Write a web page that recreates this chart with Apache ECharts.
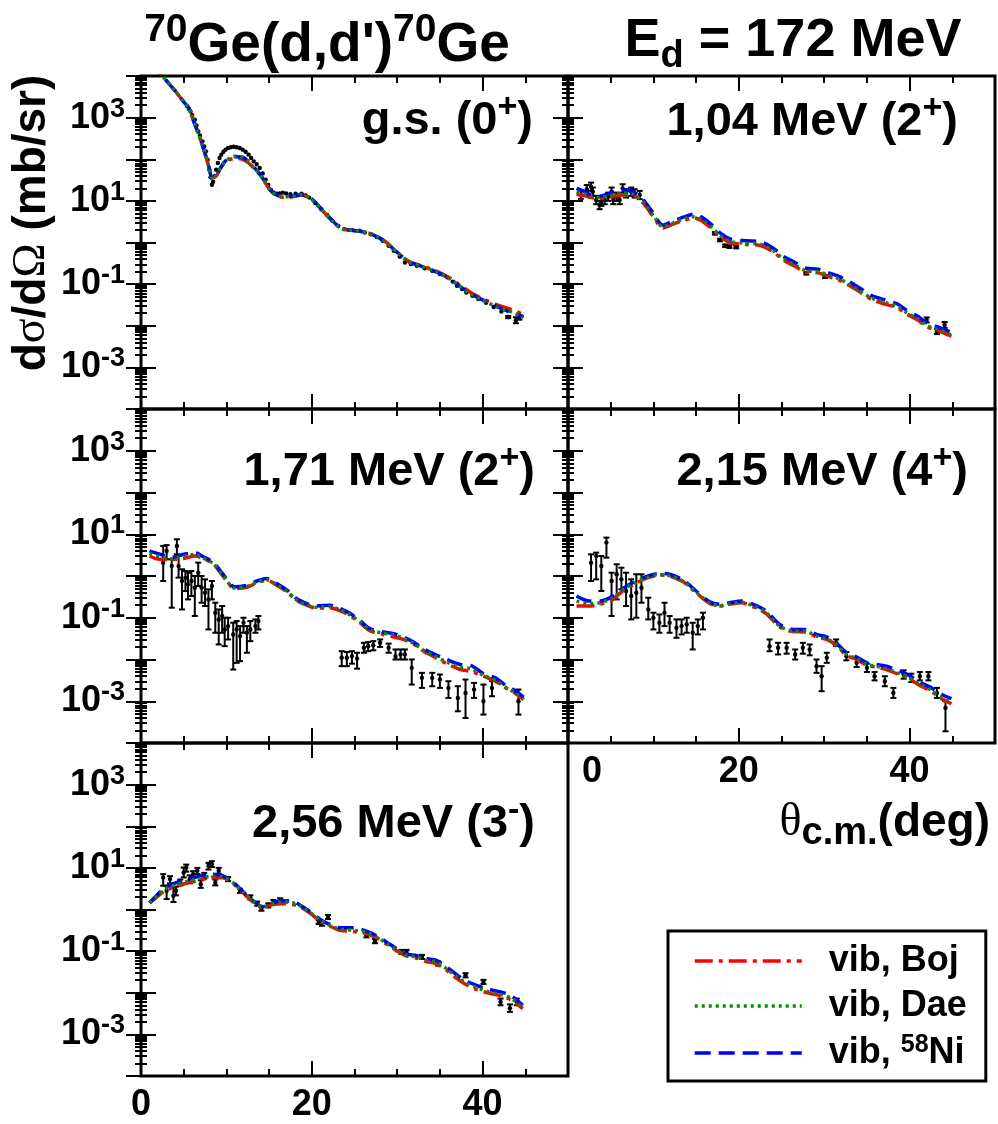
<!DOCTYPE html>
<html><head><meta charset="utf-8">
<script src="https://cdn.jsdelivr.net/npm/echarts@6/dist/echarts.min.js"></script>
<style>html,body{margin:0;padding:0;background:#fff}#c{width:998px;height:1124px}</style>
</head><body><div id="c"></div>
<script>
// ---------- tick / label arrays ----------
const X_MAJOR = [0, 20, 40];
const X_MINOR = [5, 10, 15, 25, 30, 35, 45];
const X_LABELS = [0, 20, 40];
const Y_DECADES = [1e-4, 1e-3, 1e-2, 1e-1, 1, 1e1, 1e2, 1e3, 1e4];
const Y_LABELS = [1e-3, 1e-1, 1e1, 1e3];
const SERIES_NAMES = ['vib, Boj', 'vib, Dae', 'vib, 58Ni'];
// [main text, superscript]
const PANEL_LABELS = [['g.s. (0', '+'], ['1,04 MeV (2', '+'], ['1,71 MeV (2', '+'], ['2,15 MeV (4', '+'], ['2,56 MeV (3', '-']];

// ---------- panel 1 : g.s. (0+) ----------
const P1_TH  = [1,2,2.5,3,4,5,5.6,6.2,6.7,7.2,7.6,8.0,8.35,8.8,9.2,9.8,10.5,11.2,11.9,12.6,13.3,13.9,14.6,15.2,15.8,16.5,17.5,18.8,19.9,21.1,22.2,23.5,24.9,26.5,27.6,28.7,30.0,31.4,32.7,34.5,35.9,37.2,38.6,39.9,41.7,43.5,44.8];
const P1_BOJ = [2.24e4,1.29e4,1.0e4,7.59e3,4.37e3,2.40e3,1.70e3,7.94e2,4.27e2,2.14e2,1.17e2,6.03e1,3.55e1,3.98e1,5.50e1,8.32e1,1.0e2,1.05e2,1.0e2,8.13e1,5.89e1,4.37e1,2.63e1,1.74e1,1.38e1,1.23e1,1.23e1,1.38e1,1.12e1,6.31,3.63,2.19,1.95,1.74,1.41,1.02,5.89e-1,3.47e-1,2.82e-1,2.09e-1,1.51e-1,1.0e-1,6.31e-2,4.57e-2,3.16e-2,2.40e-2,1.82e-2];
const P1_DAE = [2.24e4,1.29e4,1.0e4,7.59e3,4.37e3,2.40e3,1.70e3,7.94e2,4.27e2,2.14e2,1.17e2,6.03e1,3.31e1,3.98e1,5.62e1,8.51e1,1.10e2,1.20e2,1.10e2,8.51e1,6.03e1,4.37e1,2.63e1,1.74e1,1.38e1,1.26e1,1.26e1,1.41e1,1.12e1,6.31,3.63,2.14,1.95,1.70,1.38,1.0,5.75e-1,3.39e-1,2.75e-1,2.0e-1,1.45e-1,9.33e-2,5.75e-2,4.17e-2,2.82e-2,2.09e-2,1.58e-2];
const P1_NI  = [2.24e4,1.29e4,1.0e4,7.59e3,4.37e3,2.40e3,1.70e3,7.94e2,4.27e2,2.14e2,1.17e2,6.03e1,3.39e1,4.07e1,5.75e1,8.71e1,1.12e2,1.15e2,1.12e2,8.71e1,6.17e1,4.47e1,2.69e1,1.78e1,1.41e1,1.29e1,1.29e1,1.41e1,1.15e1,6.46,3.72,2.14,1.95,1.70,1.38,1.0,5.75e-1,3.39e-1,2.75e-1,2.0e-1,1.45e-1,9.33e-2,5.89e-2,4.27e-2,2.88e-2,2.0e-2,1.66e-2];
// [theta, value, low, high]  (error bars smaller than the dot are given as value only)
const P1_EXP = [[5.4,1.91e3],[5.6,1.62e3],[5.8,1.41e3],[6.0,1.15e3],[6.3,8.91e2],[6.5,6.46e2],[6.7,4.68e2],[6.9,3.72e2],[7.2,2.69e2],[7.4,2.04e2],[7.6,1.55e2],[7.8,9.77e1],[8.0,5.62e1],[8.15,3.72e1],[8.3,2.45e1],[8.45,2.88e1],[8.6,3.89e1],[8.8,5.62e1],[9.0,8.13e1],[9.2,1.07e2],[9.4,1.29e2],[9.65,1.51e2],[9.9,1.70e2],[10.2,1.86e2],[10.5,1.95e2],[10.85,2.0e2],[11.2,1.95e2],[11.55,1.86e2],[11.9,1.70e2],[12.25,1.51e2],[12.6,1.29e2],[12.9,1.07e2],[13.2,8.91e1],[13.55,7.59e1],[13.9,6.17e1],[14.25,4.57e1],[14.6,3.24e1],[14.9,2.40e1],[15.2,1.86e1],[15.55,1.58e1],[15.9,1.48e1],[16.25,1.51e1],[16.6,1.58e1],[17.0,1.51e1],[17.5,1.45e1],[18.1,1.48e1],[18.8,1.48e1],[19.3,1.35e1],[19.7,1.20e1],[20.4,8.91],[21.1,6.31],[21.8,4.57],[22.4,3.31],[23.1,2.51],[23.8,2.09],[24.7,2.0],[25.6,1.91],[26.2,1.74],[26.9,1.58],[27.6,1.35],[28.3,1.10],[29.0,8.32e-1],[29.6,6.31e-1],[30.3,4.57e-1],[30.9,3.31e-1],[31.6,3.02e-1],[32.3,2.75e-1],[33.2,2.40e-1],[34.1,2.09e-1],[35.0,1.74e-1],[35.9,1.45e-1],[36.5,1.15e-1],[37.0,9.12e-2],[37.6,7.59e-2],[38.1,6.31e-2],[38.8,5.25e-2],[39.5,4.37e-2],[40.4,3.55e-2],[41.3,2.82e-2],[42.2,2.19e-2],[43.0,1.62e-2,1.52e-2,1.72e-2],[43.9,1.35e-2,1.15e-2,1.60e-2],[44.3,1.58e-2,1.40e-2,1.78e-2]];

// ---------- panel 2 : 1,04 MeV (2+) ----------
const P2_TH  = [1,2,2.7,3.7,4.9,6.25,7.6,8.8,10.0,11.1,12.3,13.5,14.8,15.8,16.8,18.0,19.1,20.9,22.5,24.0,25.2,26.4,27.9,29.3,30.7,31.8,33.0,34.2,35.5,37.1,38.5,39.6,41.0,42.0,43.2,44.9];
const P2_BOJ = [1.45e1,1.32e1,1.20e1,1.15e1,1.23e1,1.38e1,1.35e1,8.91,4.17,2.24,2.75,3.39,3.89,3.16,2.19,1.29,9.77e-1,8.91e-1,8.51e-1,6.03e-1,3.80e-1,2.82e-1,1.95e-1,1.86e-1,1.48e-1,1.23e-1,9.12e-2,6.46e-2,4.37e-2,3.31e-2,2.75e-2,1.95e-2,1.35e-2,9.55e-3,7.76e-3,5.62e-3];
const P2_DAE = [1.66e1,1.45e1,1.26e1,1.20e1,1.32e1,1.51e1,1.45e1,9.33,4.47,2.40,2.95,3.63,4.17,3.39,2.34,1.38,1.05,9.55e-1,9.12e-1,6.46e-1,4.07e-1,3.02e-1,2.09e-1,2.0e-1,1.58e-1,1.32e-1,9.77e-2,6.92e-2,4.68e-2,3.63e-2,2.95e-2,2.09e-2,1.45e-2,1.02e-2,8.32e-3,6.03e-3];
const P2_NI  = [2.0e1,1.66e1,1.38e1,1.29e1,1.51e1,1.82e1,1.66e1,1.07e1,5.01,2.63,3.31,4.07,4.79,3.89,2.69,1.58,1.20,1.10,1.05,7.41e-1,4.68e-1,3.47e-1,2.40e-1,2.29e-1,1.82e-1,1.51e-1,1.12e-1,7.94e-2,5.37e-2,4.17e-2,3.39e-2,2.40e-2,1.66e-2,1.17e-2,9.55e-3,6.92e-3];
const P2_EXP = [[1.5,1.41e1,1.12e1,1.78e1],[2.2,1.91e1,1.51e1,2.40e1],[2.7,2.19e1,1.74e1,2.75e1],[2.9,1.66e1,1.32e1,2.09e1],[3.3,1.05e1,8.32,1.32e1],[3.7,7.94,6.31,1.0e1],[3.9,9.55,7.59,1.20e1],[4.3,1.05e1,8.32,1.32e1],[4.7,1.26e1,1.0e1,1.58e1],[5.1,1.66e1,1.32e1,2.09e1],[5.3,1.05e1,8.32,1.32e1],[5.7,1.26e1,1.0e1,1.58e1],[6.05,1.05e1,8.32,1.32e1],[6.4,2.0e1,1.58e1,2.51e1],[6.8,1.51e1,1.20e1,1.91e1],[7.4,1.66e1,1.32e1,2.09e1],[7.8,1.51e1,1.20e1,1.91e1],[8.4,1.38e1,1.10e1,1.74e1],[17.2,1.66,1.55,1.78],[17.8,1.15,1.07,1.23],[18.4,8.32e-1,7.76e-1,8.91e-1],[18.9,7.94e-1,7.41e-1,8.51e-1],[19.7,7.76e-1,7.24e-1,8.32e-1],[27.9,1.82e-1,1.70e-1,1.95e-1],[30.1,1.51e-1,1.41e-1,1.62e-1],[42.0,1.38e-2,1.20e-2,1.58e-2],[43.2,7.24e-3,6.31e-3,8.32e-3],[44.1,1.05e-2,8.91e-3,1.23e-2]];

// ---------- panel 3 : 1,71 MeV (2+) ----------
const P3_TH  = [1,2.2,3.6,5.0,6.3,7.3,8.5,9.6,11.0,12.4,13.6,14.7,15.9,17.1,18.2,19.4,20.6,22.1,23.3,24.5,25.7,26.8,28.4,29.6,30.7,31.9,33.1,34.2,35.8,37.4,38.6,40.1,41.5,42.7,43.6,44.8];
const P3_BOJ = [3.02,2.51,2.51,2.63,3.02,2.63,1.91,1.0,5.01e-1,5.37e-1,6.92e-1,7.94e-1,6.03e-1,4.17e-1,2.63e-1,2.0e-1,1.70e-1,1.74e-1,1.48e-1,1.12e-1,7.41e-2,4.90e-2,3.98e-2,3.47e-2,3.02e-2,2.34e-2,1.58e-2,1.20e-2,7.94e-3,5.75e-3,5.25e-3,3.98e-3,3.02e-3,2.09e-3,1.66e-3,1.10e-3];
const P3_DAE = [3.47,2.88,2.57,2.95,3.31,2.69,1.95,1.02,5.13e-1,5.62e-1,7.08e-1,8.13e-1,6.17e-1,4.27e-1,2.69e-1,2.04e-1,1.78e-1,1.86e-1,1.55e-1,1.17e-1,7.76e-2,5.13e-2,4.27e-2,3.89e-2,3.24e-2,2.45e-2,1.66e-2,1.26e-2,8.71e-3,6.46e-3,6.03e-3,4.17e-3,3.16e-3,2.14e-3,1.70e-3,1.12e-3];
const P3_NI  = [3.98,3.31,2.82,3.31,3.63,2.88,2.09,1.10,5.50e-1,6.03e-1,7.59e-1,8.71e-1,6.61e-1,4.57e-1,2.88e-1,2.19e-1,1.91e-1,2.0e-1,1.66e-1,1.26e-1,8.32e-2,5.50e-2,4.57e-2,4.17e-2,3.47e-2,2.63e-2,1.82e-2,1.38e-2,1.0e-2,7.59e-3,7.24e-3,4.57e-3,3.63e-3,2.40e-3,1.91e-3,1.26e-3];
const P3_EXP = [[2.6,2.09,7.59e-1,5.25],[3.0,3.98,2.51,5.50],[3.6,1.74,1.74e-1,2.51],[4.2,5.25,3.31,7.59],[4.4,1.74,9.12e-1,3.02],[4.8,7.59e-1,1.58e-1,1.45],[5.2,9.12e-1,4.37e-1,1.32],[5.5,6.31e-1,2.75e-1,1.20],[5.9,7.59e-1,3.31e-1,1.32],[6.3,5.25e-1,1.10e-1,1.0],[6.7,1.20,5.75e-1,2.09],[7.1,5.25e-1,2.29e-1,1.0],[7.5,3.98e-1,1.91e-1,8.32e-1],[7.9,2.75e-1,5.25e-2,4.79e-1],[8.3,5.75e-1,2.75e-1,7.59e-1],[8.7,1.32e-1,4.37e-2,2.29e-1],[9.1,9.12e-2,2.29e-2,1.58e-1],[9.5,1.10e-1,4.37e-2,1.91e-1],[9.8,5.25e-2,2.09e-2,1.0e-1],[10.2,6.31e-2,3.02e-2,1.0e-1],[10.8,3.98e-2,5.75e-3,7.59e-2],[11.2,5.25e-2,8.32e-3,8.32e-2],[11.6,3.63e-2,9.12e-3,6.31e-2],[12.0,7.59e-2,4.37e-2,1.0e-1],[12.4,4.37e-2,1.45e-2,6.31e-2],[12.8,5.25e-2,2.75e-2,8.32e-2],[13.4,6.31e-2,4.37e-2,9.12e-2],[13.75,8.32e-2,5.25e-2,1.10e-1],[23.5,1.10e-2,6.92e-3,1.58e-2],[24.1,1.10e-2,6.92e-3,1.51e-2],[24.7,1.20e-2,7.94e-3,1.58e-2],[25.3,1.05e-2,6.03e-3,1.45e-2],[26.1,1.91e-2,1.45e-2,2.51e-2],[26.6,2.09e-2,1.58e-2,2.63e-2],[27.2,2.19e-2,1.66e-2,2.75e-2],[28.0,2.51e-2,2.0e-2,3.02e-2],[29.0,1.91e-2,1.45e-2,2.40e-2],[29.8,1.20e-2,1.0e-2,1.74e-2],[30.4,1.32e-2,1.0e-2,1.74e-2],[30.9,1.32e-2,1.0e-2,1.74e-2],[31.7,6.31e-3,2.51e-3,1.0e-2],[32.9,3.63e-3,2.09e-3,4.79e-3],[34.1,3.63e-3,2.29e-3,4.79e-3],[35.0,3.31e-3,2.09e-3,4.37e-3],[36.0,2.09e-3,1.20e-3,3.02e-3],[37.1,1.20e-3,5.75e-4,2.29e-3],[38.0,1.58e-3,3.98e-4,3.31e-3],[39.0,1.91e-3,1.20e-3,2.75e-3],[40.1,1.0e-3,4.79e-4,2.51e-3],[41.1,2.09e-3,1.32e-3,3.02e-3],[44.2,1.0e-3,4.79e-4,1.91e-3]];

// ---------- panel 4 : 2,15 MeV (4+) ----------
const P4_TH  = [1,2.5,3.7,5.1,6.4,7.8,9.2,10.7,11.9,13.5,15.0,16.6,17.8,18.9,20.3,21.7,23.2,24.8,26.4,27.7,29.1,30.3,31.5,32.6,33.8,35.0,36.1,37.3,38.5,39.6,41.2,42.4,43.6,44.9];
const P4_BOJ = [1.91e-1,1.91e-1,2.09e-1,2.63e-1,4.37e-1,6.46e-1,8.91e-1,1.05,1.0,7.24e-1,3.98e-1,2.19e-1,1.91e-1,2.09e-1,2.29e-1,1.82e-1,1.26e-1,6.03e-2,4.68e-2,4.57e-2,3.47e-2,3.02e-2,2.09e-2,1.26e-2,1.0e-2,7.24e-3,6.61e-3,5.75e-3,4.57e-3,3.80e-3,2.40e-3,1.82e-3,1.20e-3,8.71e-4];
const P4_DAE = [2.51e-1,2.19e-1,2.29e-1,2.88e-1,4.68e-1,6.76e-1,9.12e-1,1.07,1.02,7.41e-1,4.07e-1,2.24e-1,1.95e-1,2.14e-1,2.34e-1,1.91e-1,1.32e-1,6.31e-2,4.79e-2,4.79e-2,3.63e-2,3.16e-2,2.19e-2,1.32e-2,1.05e-2,7.59e-3,6.92e-3,6.03e-3,4.79e-3,3.98e-3,2.51e-3,1.91e-3,1.26e-3,9.12e-4];
const P4_NI  = [3.31e-1,2.51e-1,2.51e-1,3.16e-1,5.01e-1,7.24e-1,9.77e-1,1.15,1.10,7.94e-1,4.37e-1,2.40e-1,2.09e-1,2.29e-1,2.51e-1,2.09e-1,1.45e-1,6.92e-2,5.25e-2,5.25e-2,3.98e-2,3.47e-2,2.40e-2,1.45e-2,1.15e-2,8.32e-3,7.59e-3,6.92e-3,5.50e-3,4.57e-3,2.88e-3,2.19e-3,1.51e-3,1.15e-3];
const P4_EXP = [[2.7,2.09,7.59e-1,3.31],[3.3,3.02,8.32e-1,3.63],[3.9,1.74,4.37e-1,3.02],[4.5,6.31,2.75,8.32],[5.1,7.59e-1,1.10e-1,1.20],[5.7,1.10,2.75e-1,1.91],[6.25,8.32e-1,4.79e-1,1.58],[6.8,4.37e-1,1.91e-1,1.20],[7.4,3.31e-1,9.12e-2,8.32e-1],[8.0,3.98e-1,1.0e-1,1.10],[8.6,5.25e-1,2.29e-1,1.10],[9.4,1.58e-1,9.12e-2,3.02e-1],[10.0,1.0e-1,5.25e-2,1.32e-1],[10.7,7.59e-2,4.37e-2,1.20e-1],[11.3,1.32e-1,6.31e-2,2.29e-1],[11.9,7.59e-2,4.37e-2,1.10e-1],[12.7,5.75e-2,3.31e-2,9.12e-2],[13.3,6.31e-2,3.98e-2,9.12e-2],[13.9,6.92e-2,4.37e-2,1.0e-1],[14.6,4.37e-2,1.74e-2,7.59e-2],[15.2,6.31e-2,3.98e-2,9.12e-2],[15.8,1.0e-1,5.25e-2,1.32e-1],[23.6,2.09e-2,1.58e-2,3.02e-2],[24.6,1.91e-2,1.32e-2,2.51e-2],[25.6,1.91e-2,1.38e-2,2.51e-2],[26.6,1.32e-2,1.0e-2,1.74e-2],[27.5,1.91e-2,1.38e-2,2.51e-2],[28.3,1.74e-2,1.26e-2,2.29e-2],[29.1,6.92e-3,4.79e-3,1.0e-2],[29.7,3.98e-3,1.74e-3,6.92e-3],[30.3,1.10e-2,8.32e-3,1.45e-2],[31.4,2.51e-2,2.09e-2,3.02e-2],[32.6,1.20e-2,9.55e-3,1.51e-2],[33.8,8.32e-3,6.61e-3,1.05e-2],[35.0,6.31e-3,5.01e-3,7.94e-3],[35.9,3.98e-3,3.16e-3,5.01e-3],[37.1,3.02e-3,2.29e-3,3.98e-3],[38.1,1.58e-3,1.20e-3,2.09e-3],[39.3,4.37e-3,3.47e-3,5.50e-3],[40.2,3.63e-3,2.88e-3,4.57e-3],[41.2,3.98e-3,3.16e-3,5.01e-3],[42.2,3.98e-3,3.16e-3,5.01e-3],[43.2,1.58e-3,1.20e-3,2.09e-3],[44.2,6.92e-4,1.91e-4,1.0e-3]];

// ---------- panel 5 : 2,56 MeV (3-) ----------
const P5_TH  = [1,1.8,2.8,4.2,5.5,6.9,8.3,9.6,10.8,12.0,13.2,14.3,15.3,16.5,17.7,18.6,19.8,21.0,22.1,23.3,24.9,26.4,27.6,28.8,30.0,31.1,32.3,33.5,34.6,35.8,37.0,38.2,39.3,40.7,42.1,43.4,44.7];
const P5_BOJ = [1.41,1.95,2.82,3.63,4.37,5.01,5.89,5.75,4.17,2.45,1.48,1.10,1.29,1.38,1.32,1.17,8.13e-1,5.25e-1,3.98e-1,3.16e-1,2.95e-1,2.63e-1,2.09e-1,1.45e-1,1.0e-1,7.59e-2,6.76e-2,5.50e-2,5.01e-2,3.47e-2,2.19e-2,1.51e-2,1.20e-2,9.77e-3,8.51e-3,6.61e-3,4.17e-3];
const P5_DAE = [1.45,2.04,3.09,3.98,4.79,5.62,6.31,6.03,4.37,2.57,1.55,1.15,1.35,1.51,1.45,1.23,8.51e-1,5.50e-1,4.17e-1,3.39e-1,3.16e-1,2.82e-1,2.19e-1,1.51e-1,1.05e-1,7.94e-2,7.24e-2,6.03e-2,5.50e-2,3.72e-2,2.40e-2,1.66e-2,1.32e-2,1.05e-2,9.12e-3,7.24e-3,4.37e-3];
const P5_NI  = [1.45,2.14,3.39,4.47,5.37,6.31,7.08,6.46,4.57,2.63,1.58,1.17,1.41,1.62,1.58,1.29,8.91e-1,5.75e-1,4.37e-1,3.63e-1,3.63e-1,3.02e-1,2.34e-1,1.62e-1,1.12e-1,8.51e-2,7.76e-2,6.61e-2,6.03e-2,4.17e-2,2.69e-2,1.86e-2,1.51e-2,1.20e-2,1.05e-2,8.32e-3,5.01e-3];
const P5_EXP = [[2.6,5.89,3.72,7.08],[3.0,2.82,1.78,3.72],[3.4,5.37,4.27,6.31],[3.8,2.14,1.51,3.39],[4.1,2.82,2.19,3.55],[4.6,4.47,3.80,5.25],[5.0,7.76,5.89,1.02e1],[5.3,1.02e1,8.13,1.20e1],[5.7,5.37,4.27,6.61],[6.1,7.08,6.03,8.32],[6.6,8.51,7.08,1.0e1],[7.0,4.07,3.31,5.01],[7.4,6.46,5.50,7.59],[7.9,1.12e1,9.12,1.32e1],[8.3,1.23e1,1.05e1,1.45e1],[8.7,4.47,3.80,5.25],[9.1,8.51,7.24,1.0e1],[10.2,5.37,4.79,6.03],[11.6,2.82,2.51,3.16],[12.8,1.95,1.74,2.19],[13.6,1.38,1.23,1.55],[14.1,1.05,9.33e-1,1.17],[14.9,1.26,1.12,1.41],[15.5,1.51,1.35,1.70],[16.3,1.66,1.48,1.86],[20.8,5.01e-1,4.47e-1,5.62e-1],[21.2,4.57e-1,4.07e-1,5.13e-1],[21.9,6.61e-1,5.89e-1,7.41e-1],[26.4,2.40e-1,2.14e-1,2.69e-1],[27.4,1.74e-1,1.55e-1,1.95e-1],[30.5,9.55e-2,8.51e-2,1.07e-1],[31.1,9.55e-2,8.51e-2,1.07e-1],[32.9,7.24e-2,6.46e-2,8.13e-2],[34.8,5.01e-2,4.47e-2,5.62e-2],[38.0,2.63e-2,2.34e-2,2.95e-2],[40.1,1.82e-2,1.62e-2,2.04e-2],[42.1,6.03e-3,5.01e-3,7.24e-3],[43.2,4.27e-3,3.47e-3,5.25e-3],[44.0,6.03e-3,5.01e-3,7.24e-3]];

// ---------- layout & styles ----------
const FONT = '"Liberation Sans", Arial, Helvetica, sans-serif';
const SERIF = '"Liberation Serif", "DejaVu Serif", serif';
const RED = '#ff0000', GREEN = '#009000', BLUE = '#0000ff';
const PANELS = [
  {grid:{left:141, top:76,  width:427, height:333}, th:P1_TH, boj:P1_BOJ, dae:P1_DAE, ni:P1_NI, exp:P1_EXP, xl:false, yl:true,  lab:{x:533, y:121}},
  {grid:{left:568, top:76,  width:427, height:333}, th:P2_TH, boj:P2_BOJ, dae:P2_DAE, ni:P2_NI, exp:P2_EXP, xl:false, yl:false, lab:{x:958, y:122}},
  {grid:{left:141, top:409, width:427, height:334}, th:P3_TH, boj:P3_BOJ, dae:P3_DAE, ni:P3_NI, exp:P3_EXP, xl:false, yl:true,  lab:{x:535, y:472}},
  {grid:{left:568, top:409, width:427, height:334}, th:P4_TH, boj:P4_BOJ, dae:P4_DAE, ni:P4_NI, exp:P4_EXP, xl:true,  yl:false, lab:{x:968, y:472}, shiftZero:true},
  {grid:{left:141, top:743, width:427, height:333}, th:P5_TH, boj:P5_BOJ, dae:P5_DAE, ni:P5_NI, exp:P5_EXP, xl:true,  yl:true,  lab:{x:535, y:824}}
];

const Y_MINOR = [];
for (let d = 0; d < Y_DECADES.length - 1; d++) for (let k = 2; k <= 9; k++) Y_MINOR.push(k * Y_DECADES[d]);

function tok(size, lh, va, family, weight) {
  return {fontSize:size, lineHeight:lh, verticalAlign:va, fontFamily:family || FONT, fontWeight:weight || 'bold', fill:'#000', color:'#000'};
}

const grids = [], xAxes = [], yAxes = [], series = [], graphics = [];
const TICK = {color:'#000', width:2};

PANELS.forEach((p, i) => {
  grids.push(Object.assign({show:true, borderColor:'#000', borderWidth:3, backgroundColor:'transparent'}, p.grid));
  const xBase = {type:'value', gridIndex:i, min:0, max:50, axisLine:{show:false, onZero:false}, splitLine:{show:false}};
  const xLab = p.xl ? {
    show:true, customValues:X_LABELS, margin:11, fontSize:36, fontWeight:'bold', fontFamily:FONT, color:'#000',
    formatter: v => (p.shiftZero && v === 0) ? '{z|0}' : String(v),
    rich:{z:{fontSize:36, fontWeight:'bold', fontFamily:FONT, color:'#000', padding:[0,0,0,48]}}
  } : {show:false};
  xAxes.push(Object.assign({}, xBase, {position:'bottom', axisTick:{show:true, inside:true, length:15, customValues:X_MAJOR, lineStyle:TICK}, axisLabel:xLab}));
  xAxes.push(Object.assign({}, xBase, {position:'bottom', axisTick:{show:true, inside:true, length:7, customValues:X_MINOR, lineStyle:TICK}, axisLabel:{show:false}}));
  xAxes.push(Object.assign({}, xBase, {position:'top', axisTick:{show:true, inside:true, length:15, customValues:X_MAJOR, lineStyle:TICK}, axisLabel:{show:false}}));
  xAxes.push(Object.assign({}, xBase, {position:'top', axisTick:{show:true, inside:true, length:7, customValues:X_MINOR, lineStyle:TICK}, axisLabel:{show:false}}));

  const yBase = {type:'log', logBase:10, gridIndex:i, min:1e-4, max:1e4, axisLine:{show:false}, splitLine:{show:false}, minorTick:{show:false}};
  const yLab = p.yl ? {
    show:true, customValues:Y_LABELS, margin:16, fontSize:36, fontWeight:'bold', fontFamily:FONT, color:'#000',
    formatter: v => '{b|10}{e|' + String(Math.round(Math.log10(v))) + '}',
    rich:{b:tok(36,44,'middle'), e:tok(27,10,'top')}
  } : {show:false};
  yAxes.push(Object.assign({}, yBase, {position:'left', axisTick:{show:true, inside:true, length:15, customValues:Y_DECADES, lineStyle:TICK}, axisLabel:yLab}));
  yAxes.push(Object.assign({}, yBase, {position:'left', axisTick:{show:true, inside:true, length:6, customValues:Y_MINOR, lineStyle:TICK}, axisLabel:{show:false}}));
  yAxes.push(Object.assign({}, yBase, {position:'right', axisTick:{show:true, inside:true, length:15, customValues:Y_DECADES, lineStyle:TICK}, axisLabel:{show:false}}));
  yAxes.push(Object.assign({}, yBase, {position:'right', axisTick:{show:true, inside:true, length:6, customValues:Y_MINOR, lineStyle:TICK}, axisLabel:{show:false}}));

  const ax = {xAxisIndex:4 * i, yAxisIndex:4 * i};
  series.push(Object.assign({
    type:'custom', name:'data', data:p.exp, encode:{x:0, y:1}, dimensions:['th','v','lo','hi'], z:2, silent:true,
    renderItem:(params, api) => {
      const c = api.coord([api.value(0), api.value(1)]);
      const dot = {type:'circle', shape:{cx:c[0], cy:c[1], r:2.2}, style:{fill:'#000'}};
      const l = api.value(2), h = api.value(3);
      if (!(l > 0) || !(h > 0)) return dot;
      const lo = api.coord([api.value(0), l]);
      const hi = api.coord([api.value(0), h]);
      const st = {stroke:'#000', lineWidth:2};
      return {type:'group', children:[
        {type:'line', shape:{x1:c[0], y1:lo[1], x2:c[0], y2:hi[1]}, style:st},
        {type:'line', shape:{x1:c[0]-3, y1:lo[1], x2:c[0]+3, y2:lo[1]}, style:st},
        {type:'line', shape:{x1:c[0]-3, y1:hi[1], x2:c[0]+3, y2:hi[1]}, style:st},
        dot
      ]};
    }
  }, ax));
  const zip = vals => p.th.map((t, k) => [t, vals[k]]);
  const mk = (name, vals, color, dash, z) => Object.assign({type:'line', name:name, data:zip(vals), symbol:'none', smooth:0.3, z:z,
    lineStyle:{color:color, width:3.5, type:dash}, itemStyle:{color:color, opacity:0}}, ax);
  series.push(mk(SERIES_NAMES[0], p.boj, RED, [18,6,4,6], 3));
  series.push(mk(SERIES_NAMES[2], p.ni, BLUE, [16,8], 4));
  series.push(mk(SERIES_NAMES[1], p.dae, GREEN, [3,4], 5));

  const lb = PANEL_LABELS[i];
  graphics.push({type:'text', x:p.lab.x, y:p.lab.y, z:10, style:{
    text:'{m|' + lb[0] + '}{s|' + lb[1] + '}{m|)}', align:'right', verticalAlign:'middle',
    rich:{m:tok(47,60,'middle'), s:tok(34,42,'top')}}});
});

// titles
graphics.push({type:'text', x:327, y:46, style:{text:"{s|70}{m|Ge(d,d')}{s|70}{m|Ge}", align:'center', verticalAlign:'middle',
  rich:{s:tok(39,20,'top'), m:tok(55,70,'middle')}}});
graphics.push({type:'text', x:793, y:41, style:{text:'{m|E}{d|d}{m| = 172 MeV}', align:'center', verticalAlign:'middle',
  rich:{m:tok(54,70,'middle'), d:tok(38,40,'bottom')}}});
graphics.push({type:'text', x:32, y:223, rotation:Math.PI/2, style:{text:'{m|d}{g|σ}{m|/d}{g|Ω}{m| (mb/sr)}', align:'center', verticalAlign:'middle',
  rich:{m:tok(46,56,'middle'), g:tok(46,56,'middle',SERIF,'normal')}}});
graphics.push({type:'text', x:990, y:823, style:{text:'{t|θ}{s|c.m.}{m|(deg)}', align:'right', verticalAlign:'middle',
  rich:{t:tok(46,60,'middle',SERIF,'normal'), s:tok(38,30,'bottom'), m:tok(46,60,'middle')}}});

const chart = echarts.init(document.getElementById('c'), null, {renderer:'canvas'});
chart.setOption({
  animation:false,
  backgroundColor:'#fff',
  grid:grids, xAxis:xAxes, yAxis:yAxes, series:series, graphic:graphics,
  legend:{
    data:['vib, Boj', 'vib, Dae', 'vib, 58Ni'], orient:'vertical', left:668, top:931,
    itemWidth:107, itemHeight:14, itemGap:9, padding:[12,19,10,25], selectedMode:false,
    borderColor:'#000', borderWidth:3, borderRadius:0, backgroundColor:'#fff',
    lineStyle:{width:3.5}, itemStyle:{opacity:0},
    formatter: n => n === 'vib, 58Ni' ? '{n|vib, }{sup|58}{n|Ni}' : '{n|' + n + '}',
    textStyle:{fontSize:36, fontWeight:'bold', fontFamily:FONT, color:'#000', padding:[0,0,0,22],
      rich:{n:tok(36,40,'middle'), sup:tok(25,18,'top')}}
  }
});
</script></body></html>
